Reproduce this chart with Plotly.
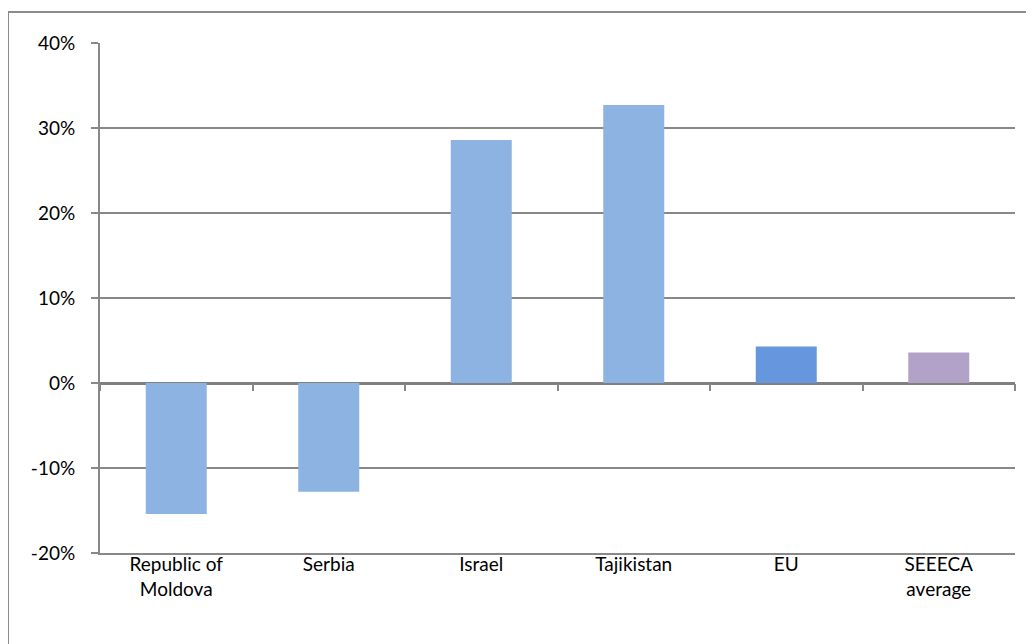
import plotly.graph_objects as go

# data
categories = ["Republic of<br>Moldova", "Serbia", "Israel", "Tajikistan", "EU", "SEEECA<br>average"]
change = [-0.154, -0.128, 0.286, 0.327, 0.043, 0.036]
bar_colors = ["#8db3e2", "#8db3e2", "#8db3e2", "#8db3e2", "#6596de", "#b3a2c7"]
y_ticks = [-0.2, -0.1, 0, 0.1, 0.2, 0.3, 0.4]
y_tick_text = ["-20%", "-10%", "0%", "10%", "20%", "30%", "40%"]

grid = "#888888"
font = dict(family="Lato, 'Open Sans', sans-serif", size=19, color="black")

fig = go.Figure()
fig.add_trace(go.Bar(x=categories, y=change, marker_color=bar_colors,
                     marker_line_width=0, width=0.4, showlegend=False,
                     hovertemplate="%{x}: %{y:.1%}<extra></extra>"))

# invisible trace so the secondary axis (tick marks on the 0% line) gets drawn
fig.add_trace(go.Scatter(x=categories, y=[0] * len(categories), xaxis="x2",
                         mode="markers", marker_opacity=0, showlegend=False,
                         hoverinfo="skip"))

# plot area: 92..1007 px wide, 35..545 px high (page has 8px body margin)
fig.update_layout(
    width=1034, height=644,
    margin=dict(l=92, r=27, t=35, b=99),
    plot_bgcolor="white", paper_bgcolor="white",
    font=font,
    xaxis=dict(type="category", categoryarray=categories, range=[-0.5, 5.5],
               showline=True, linecolor=grid, linewidth=2, showgrid=False,
               ticks="", ticklen=0, ticklabelstandoff=-7, tickfont=font),
    xaxis2=dict(type="category", categoryarray=categories, range=[-0.5, 5.5],
                overlaying="x", anchor="free", position=1 / 3,
                showline=False, showgrid=False, showticklabels=False,
                ticks="outside", tickson="boundaries", ticklen=7,
                tickcolor=grid, tickwidth=2),
    yaxis=dict(range=[-0.2, 0.4], tickvals=y_ticks, ticktext=y_tick_text,
               showline=True, linecolor=grid, linewidth=2,
               showgrid=True, gridcolor=grid, gridwidth=2,
               zeroline=True, zerolinecolor="#808080", zerolinewidth=3,
               ticks="outside", ticklen=7, tickcolor=grid, tickwidth=2,
               ticklabelstandoff=12, tickfont=font),
    shapes=[dict(type="rect", xref="paper", yref="paper",
                 x0=-92 / 915, x1=1.1, y0=-1.2, y1=1 + 31 / 510,
                 line=dict(color="#8c8c8c", width=2), layer="below")],
)

fig.write_html("out.html")
